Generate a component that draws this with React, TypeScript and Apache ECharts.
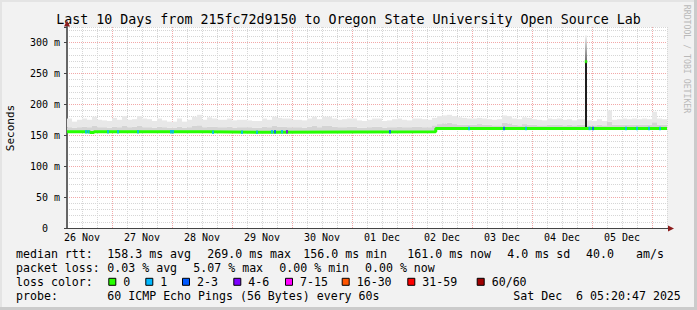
import { useEffect, useRef } from "react";
import * as echarts from "echarts";

// ---------- data ----------
const titleText = "Last 10 Days from 215fc72d9150 to Oregon State University Open Source Lab";
const dayLabels = ["26 Nov", "27 Nov", "28 Nov", "29 Nov", "30 Nov", "01 Dec", "02 Dec", "03 Dec", "04 Dec", "05 Dec"];
const yUnit = "m";

// median rtt (ms) as steps: [hour since 26 Nov 06:00, value from that hour on]
const medianSteps: [number, number][] = [
  [0, 155.5], [9.2, 154.3], [10.8, 155.5], [56, 154.8], [81, 155.6], [147.5, 161], [240, 161],
];

// smoke per 2-hour bin (ms)
const smokeMid = [
  163, 162, 163, 164, 163, 165, 163, 163, 162, 164,
  163, 165, 163, 164, 165, 163, 163, 162, 164, 163,
  162, 162, 164, 162, 163, 165, 166, 163, 164, 164,
  163, 163, 164, 162, 163, 163, 163, 162, 162, 164,
  163, 165, 164, 164, 163, 163, 163, 162, 164, 165,
  163, 165, 165, 164, 163, 163, 164, 164, 162, 162,
  163, 164, 164, 162, 163, 163, 164, 163, 163, 164,
  164, 163, 163, 166, 168, 169, 170, 168, 167, 167,
  167, 167, 168, 167, 167, 166, 166, 170, 169, 167,
  166, 168, 167, 167, 166, 166, 167, 167, 167, 166,
  167, 166, 167, 167, 166, 166, 167, 166, 172, 167,
  167, 167, 167, 167, 167, 167, 167, 171, 167, 167,
];
const smokeTop = [
  177, 172, 175, 177, 175, 180, 175, 174, 173, 178,
  175, 181, 175, 176, 181, 177, 176, 173, 177, 174,
  172, 172, 177, 172, 175, 180, 183, 175, 179, 177,
  175, 175, 177, 174, 175, 175, 174, 173, 173, 177,
  175, 180, 178, 177, 177, 175, 175, 174, 177, 180,
  176, 180, 180, 177, 175, 176, 177, 177, 174, 173,
  175, 177, 177, 173, 174, 176, 177, 175, 174, 177,
  177, 176, 175, 178, 181, 182, 183, 181, 179, 178,
  177, 177, 178, 177, 176, 175, 176, 182, 181, 177,
  176, 179, 178, 176, 175, 174, 177, 176, 177, 175,
  176, 174, 176, 176, 174, 173, 176, 173, 190, 175,
  176, 177, 176, 177, 176, 177, 176, 188, 177, 176,
];
const binHours = 2;

// the single spike (ms)
const spikeHour = 207.6;
const spikeBase = 163;
const spikeMedian = 269;
const spikeTop = 312;

// packet loss events: [hour, lost pings]
const lossEvents: [number, number][] = [
  [7.6, 1], [8.6, 1], [16.4, 1], [20.4, 1], [28.4, 1], [41.6, 1], [42.4, 1], [58.4, 1],
  [70, 1], [76, 1], [82, 1], [83.2, 3], [86, 1], [88, 5], [129.2, 3], [160.8, 1],
  [174.8, 3], [183.6, 1], [209, 1], [210.4, 2], [223.6, 1], [228, 1], [232.8, 1], [237.2, 1],
];

const rttStats = ["158.3 ms avg", "269.0 ms max", "156.0 ms min", "161.0 ms now", "4.0 ms sd", "40.0", "am/s"];
const lossStats = ["0.03 % avg", "5.07 % max", "0.00 % min", "0.00 % now"];
const lossLabels = ["0", "1", "2-3", "4-6", "7-15", "16-30", "31-59", "60/60"];
const lossColors = ["#26ff00", "#00b8ff", "#0059ff", "#7e00ff", "#ff00ff", "#ff5500", "#ff0000", "#a00000"];
const lossUpper = [0, 1, 3, 6, 15, 30, 59, 60];
const probeText = "60 ICMP Echo Pings (56 Bytes) every 60s";
const dateText = "Sat Dec\u00a0 6 05:20:47 2025";
const watermark = "RRDTOOL / TOBI OETIKER";

// ---------- helpers ----------
const MONO = '"DejaVu Sans Mono", monospace';
const MAJ = "#f2a8a8";
const MIN = "#d6d6d6";

function medianAt(h: number): number {
  let v = medianSteps[0][1];
  for (const [x, y] of medianSteps) if (x <= h) v = y;
  return v;
}
function lossColor(n: number): string {
  for (let i = 0; i < lossUpper.length; i++) if (n <= lossUpper[i]) return lossColors[i];
  return lossColors[lossColors.length - 1];
}

function buildOption() {
  const smokeData = smokeTop.map((t, i) => [i * binHours, medianAt(i * binHours + binHours / 2), smokeMid[i], t]);

  const g: any[] = [];
  // frame
  g.push({ type: "rect", shape: { x: 0, y: 0, width: 697, height: 2 }, style: { fill: "#e4e4e4" }, silent: true });
  g.push({ type: "rect", shape: { x: 0, y: 0, width: 2, height: 310 }, style: { fill: "#e4e4e4" }, silent: true });
  g.push({ type: "rect", shape: { x: 694, y: 0, width: 3, height: 310 }, style: { fill: "#cbcbcb" }, silent: true });
  g.push({ type: "rect", shape: { x: 0, y: 307, width: 697, height: 3 }, style: { fill: "#cbcbcb" }, silent: true });
  // title
  g.push({
    type: "text", x: 348.5, y: 19,
    style: { text: titleText, font: `13.3px ${MONO}`, fill: "#000", textAlign: "center", textVerticalAlign: "middle" },
  });
  // y name
  g.push({
    type: "text", x: 10.5, y: 128, rotation: Math.PI / 2,
    style: { text: "Seconds", font: `11px ${MONO}`, fill: "#000", textAlign: "center", textVerticalAlign: "middle" },
  });
  // watermark
  g.push({
    type: "text", x: 687, y: 59, rotation: -Math.PI / 2,
    style: { text: watermark, font: `8.2px ${MONO}`, fill: "#b9b9b9", textAlign: "center", textVerticalAlign: "middle" },
  });
  // axis extensions and arrows
  g.push({ type: "line", shape: { x1: 67, y1: 28, x2: 67, y2: 23 }, style: { stroke: "#666", lineWidth: 2 } });
  g.push({ type: "polygon", shape: { points: [[64, 26.5], [70, 26.5], [67, 20.5]] }, style: { fill: "#8c1c1c" } });
  g.push({ type: "line", shape: { x1: 666, y1: 228.5, x2: 669, y2: 228.5 }, style: { stroke: "#444", lineWidth: 1 } });
  g.push({ type: "polygon", shape: { points: [[668, 225.5], [668, 231.5], [674, 228.5]] }, style: { fill: "#8c1c1c" } });

  const font = `11.6px ${MONO}`;
  const txt = (text: string, x: number, y: number) =>
    g.push({ type: "text", x, y, style: { text, font, fill: "#000", textAlign: "left", textVerticalAlign: "middle" } });
  const rowY = [254, 268.2, 281.8, 296];
  const colX = 107.3;
  txt("median rtt:", 16, rowY[0]);
  const rttX = [colX, 207.3, 303.3, 407.3, 507.3, 586, 636];
  rttStats.forEach((s, i) => txt(s, rttX[i], rowY[0]));
  txt("packet loss:", 16, rowY[1]);
  const lossX = [colX, 193.3, 279.3, 365];
  lossStats.forEach((s, i) => txt(s, lossX[i], rowY[1]));
  txt("loss color:", 16, rowY[2]);
  const swX = [108.3, 145.3, 182, 233.3, 285, 341.7, 407.3, 476.7];
  lossLabels.forEach((s, i) => {
    g.push({
      type: "rect", shape: { x: swX[i] + 0.5, y: rowY[2] - 3.5, width: 7, height: 7 },
      style: { fill: lossColors[i], stroke: "#000", lineWidth: 1 },
    });
    txt(s, swX[i] + 15, rowY[2]);
  });
  txt("probe:", 16, rowY[3]);
  txt(probeText, colX, rowY[3]);
  txt(dateText, 513.3, rowY[3]);

  return {
    animation: false,
    backgroundColor: "#f2f2f2",
    textStyle: { fontFamily: MONO },
    grid: {
      left: 67, top: 27, width: 600, height: 201, show: true, backgroundColor: "#ffffff", borderWidth: 0,
      containLabel: false, outerBoundsMode: "none",
    },
    xAxis: {
      type: "value", min: 0, max: 240, interval: 6, position: "bottom",
      axisLine: { show: true, onZero: false, lineStyle: { color: "#444", width: 1 } },
      axisTick: { show: false },
      axisLabel: {
        show: true, margin: 4, color: "#000", fontSize: 10, fontFamily: MONO, hideOverlap: false,
        formatter: (v: number) => ((v - 6) % 24 === 0 ? dayLabels[(v - 6) / 24] ?? "" : ""),
      },
      splitLine: { show: true, lineStyle: { color: [MIN, MIN, MIN, MAJ], width: 1, type: [1, 1] } },
    },
    yAxis: [
      {
        type: "value", min: 0, max: 325, interval: 10, position: "left", offset: 0,
        axisLine: { show: true, onZero: false, lineStyle: { color: "#666", width: 2 } },
        axisTick: { show: false },
        axisLabel: {
          show: true, margin: 7, color: "#000", fontSize: 10, fontFamily: MONO, hideOverlap: false,
          formatter: (v: number) => (v % 50 !== 0 ? "" : v === 0 ? "0\u00a0\u00a0" : `${v} ${yUnit}`),
        },
        splitLine: { show: true, lineStyle: { color: [MAJ, MIN, MIN, MIN, MIN], width: 1, type: [1, 1] } },
      },
      {
        type: "value", min: 0, max: 325, interval: 50, position: "left", offset: 0,
        axisLine: { show: false }, axisLabel: { show: false }, splitLine: { show: false },
        axisTick: { show: true, length: 3, lineStyle: { color: "#444" } },
      },
    ],
    series: [
      {
        type: "custom", name: "smoke", data: smokeData, silent: true, z: 2, clip: true,
        encode: { x: 0, y: [1, 2, 3] },
        renderItem: (_p: any, api: any) => {
          const h = api.value(0);
          const pLo = api.coord([h, api.value(1)]);
          const pMid = api.coord([h, api.value(2)]);
          const pTop = api.coord([h + binHours, api.value(3)]);
          const x = pLo[0];
          const w = pTop[0] - x;
          return {
            type: "group",
            children: [
              { type: "rect", shape: { x, y: pMid[1], width: w, height: pLo[1] - pMid[1] }, style: { fill: "#d4d4d4" } },
              { type: "rect", shape: { x, y: pTop[1], width: w, height: pMid[1] - pTop[1] }, style: { fill: "#e8e8e8" } },
            ],
          };
        },
      },
      {
        type: "custom", name: "spike", data: [[spikeHour, spikeBase, spikeMedian, spikeTop]], silent: true, z: 3,
        encode: { x: 0, y: [1, 2, 3] },
        renderItem: (_p: any, api: any) => {
          const h = api.value(0);
          const pB = api.coord([h, api.value(1)]);
          const pM = api.coord([h, api.value(2)]);
          const pT = api.coord([h, api.value(3)]);
          return {
            type: "group",
            children: [
              { type: "rect", shape: { x: pB[0] - 1, y: pM[1], width: 2, height: pB[1] - pM[1] }, style: { fill: "#1e1e1e" } },
              {
                type: "rect", shape: { x: pB[0] - 0.75, y: pT[1], width: 1.5, height: pM[1] - pT[1] },
                style: {
                  fill: new echarts.graphic.LinearGradient(0, 0, 0, 1, [
                    { offset: 0, color: "#f4f4f4" },
                    { offset: 1, color: "#3a3a3a" },
                  ]),
                },
              },
            ],
          };
        },
      },
      {
        type: "line", data: medianSteps, step: "end", showSymbol: false, symbol: "none", silent: true,
        lineStyle: { color: lossColors[0], width: 3 }, z: 4,
      },
      {
        type: "scatter", data: [[spikeHour, spikeMedian]], symbol: "rect", symbolSize: [2.5, 3], silent: true,
        itemStyle: { color: lossColors[0] }, z: 5,
      },
      {
        type: "scatter", silent: true, symbol: "rect", symbolSize: [2, 3.5], z: 5,
        data: lossEvents.map(([h, n]) => ({ value: [h, medianAt(h)], itemStyle: { color: lossColor(n) } })),
      },
    ],
    graphic: { elements: g },
  };
}

export default function App() {
  const ref = useRef<HTMLDivElement>(null);
  useEffect(() => {
    const chart = echarts.init(ref.current!, null, { renderer: "svg" });
    chart.setOption(buildOption() as any);
    return () => chart.dispose();
  }, []);
  return <div ref={ref} style={{ position: "fixed", left: 0, top: 0, width: 697, height: 310 }} />;
}
